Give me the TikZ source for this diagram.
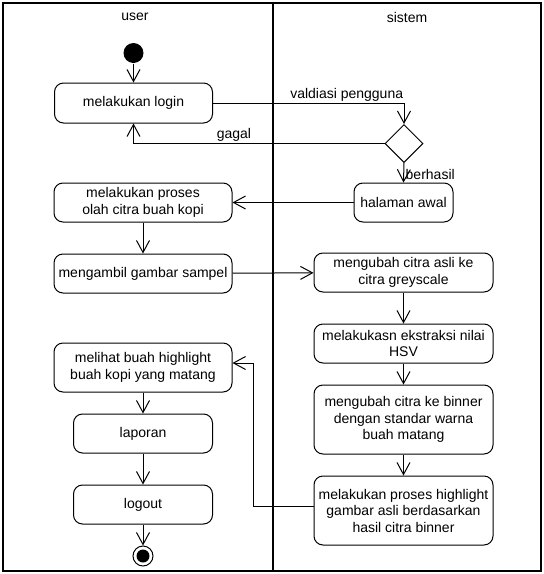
\documentclass[tikz,border=0pt]{standalone}
\usepackage{fontspec}
\setmainfont{Liberation Sans}
\usepackage{tikz}
\usetikzlibrary{shapes.geometric, arrows.meta, positioning}

\begin{document}
\begin{tikzpicture}[
        x=1pt, y=-1pt,
        line width=1pt,
        acao/.style={rectangle, draw=black, rounded corners=9pt, align=center, font=\fontsize{14}{16.5}\selectfont, minimum height=39pt, inner sep=2pt},
        rotulo/.style={font=\fontsize{14}{16.5}\selectfont, inner sep=1.5pt},
        seta/.style={-{Straight Barb[length=12pt, width=13pt]}}
    ]
        \useasboundingbox (0,0) rectangle (544,574);

        % Raias
        \draw[line width=1.5pt] (3,3) rectangle (541,571);
        \draw[line width=2pt] (273,3) -- (273,571);
        \node[rotulo] (user) at (135,17) {user};
        \node[rotulo] (sistem) at (407,17) {sistem};

        % Nós do diagrama
        \node[circle, fill=black, minimum size=20pt, inner sep=0pt] (inicio) at (133.5,53) {};
        \node[acao, minimum width=158pt, minimum height=40pt] (login) at (133.5,103) {melakukan login};
        \node[diamond, draw=black, minimum width=38pt, minimum height=38pt, inner sep=0pt] (decisao) at (404,143.5) {};
        \node[acao, minimum width=99pt] (halaman) at (403.5,202.5) {halaman awal};
        \node[acao, minimum width=178pt] (proses) at (143,202.5) {melakukan proses\\olah citra buah kopi};
        \node[acao, minimum width=178pt, below=31pt of proses] (sampel) {mengambil gambar sampel};
        \node[acao, minimum width=179pt] (grey) at (403.5,272.5) {mengubah citra asli ke\\citra greyscale};
        \node[acao, minimum width=179pt, below=31pt of grey] (hsv) {melakukasn ekstraksi nilai\\HSV};
        \node[acao, minimum width=179pt, minimum height=69pt, below=21pt of hsv] (binner) {mengubah citra ke binner\\dengan standar warna\\buah matang};
        \node[acao, minimum width=179pt, minimum height=69pt, below=21pt of binner] (highlight) {melakukan proses highlight\\gambar asli berdasarkan\\hasil citra binner};
        \node[acao, minimum width=178pt, minimum height=49pt] (melihat) at (143,367.5) {melihat buah highlight\\buah kopi yang matang};
        \node[acao, minimum width=139pt, below=21pt of melihat] (laporan) {laporan};
        \node[acao, minimum width=139pt, below=31pt of laporan] (logout) {logout};
        \node[circle, draw=black, minimum size=20pt, inner sep=0pt, below=21pt of logout] (fim) {};
        \fill (fim.center) circle (6.5pt);

        % Conexões
        \draw[seta] (inicio) -- (login);
        \draw[seta] (login.east) -| node[rotulo, pos=0.35, above] {valdiasi pengguna} (decisao.north);
        \draw[seta] (decisao.west) -| node[rotulo, pos=0.3, above] {gagal} (login.south);
        \draw[seta] (decisao.south) -- node[rotulo, pos=0.6, right] {berhasil} (halaman.north);
        \draw[seta] (halaman) -- (proses);
        \draw[seta] (proses) -- (sampel);
        \draw[seta] (sampel) -- (grey);
        \draw[seta] (grey) -- (hsv);
        \draw[seta] (hsv) -- (binner);
        \draw[seta] (binner) -- (highlight);
        \draw[seta] ([yshift=4.5pt]highlight.west) -- ++(-60,0) |- ([yshift=4.5pt]melihat.east);
        \draw[seta] (melihat) -- (laporan);
        \draw[seta] (laporan) -- (logout);
        \draw[seta] (logout) -- (fim);
    \end{tikzpicture}
\end{document}
